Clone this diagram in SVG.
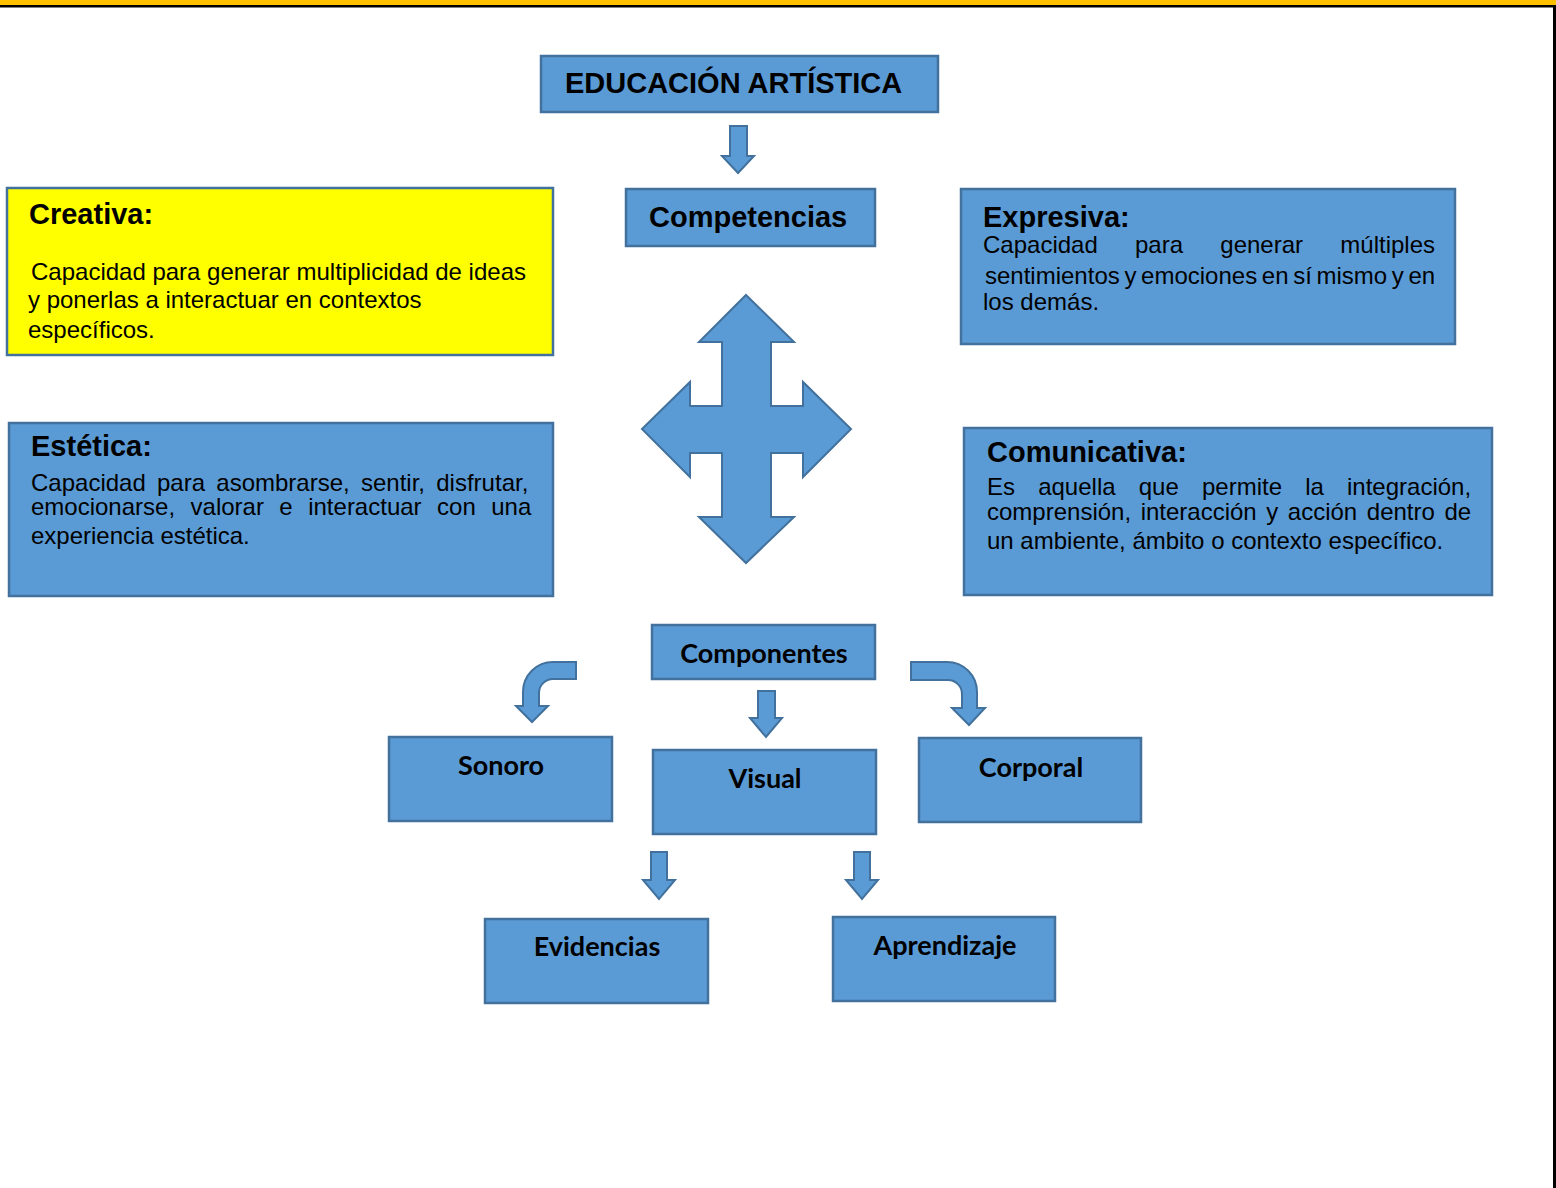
<svg xmlns="http://www.w3.org/2000/svg" width="1556" height="1188" viewBox="0 0 1556 1188">
<style>
.box{fill:#5b9bd5;stroke:#41719c;stroke-width:2.5}
.yel{fill:#ffff00;stroke:#41719c;stroke-width:2.5}
.arr{fill:#5b9bd5;stroke:#41719c;stroke-width:2;stroke-linejoin:miter}
.h{font-family:"Liberation Sans",Arial,sans-serif;font-weight:bold;font-size:29px;fill:#000}
.t{font-family:"Liberation Sans",Arial,sans-serif;font-size:24px;fill:#000}
.c{font-family:"Lato","Open Sans",sans-serif;font-weight:bold;font-size:27px;fill:#000;text-anchor:middle}
</style>
<rect x="0" y="0" width="1556" height="1188" fill="#fff"/>
<rect x="0" y="0" width="1556" height="5" fill="#ffc000"/>
<rect x="0" y="5" width="1556" height="2.5" fill="#000"/>
<rect x="1553" y="5" width="3" height="1183" fill="#000"/>

<g id="connectors">
<path class="arr" d="M730,126 L747,126 L747,156 L754,156 L738,173 L722,156 L730,156 Z"/>
<path class="arr" d="M746,295 L794,342 L771,342 L771,406 L803,406 L803,382 L851,429 L803,477 L803,453 L771,453 L771,517 L794,517 L746,563 L699,517 L722,517 L722,453 L690,453 L690,477 L642,429 L690,382 L690,406 L722,406 L722,342 L699,342 Z"/>
<path class="arr" d="M758,691 L775,691 L775,718 L782,718 L766,737 L750,718 L758,718 Z"/>
<path class="arr" d="M576,662 L553,662 A30,30 0 0 0 523,692 L523,706 L516,706 L532,722 L548,706 L539,706 L539,693 A14,14 0 0 1 553,679 L576,679 Z"/>
<path class="arr" d="M911,662 L947,662 A30,30 0 0 1 977,692 L977,708 L985,708 L969,725 L952,708 L962,708 L962,694 A14,14 0 0 0 948,680 L911,680 Z"/>
<path class="arr" d="M651,852 L667,852 L667,880 L675,880 L659,899 L643,880 L651,880 Z"/>
<path class="arr" d="M854,852 L870,852 L870,880 L878,880 L862,899 L846,880 L854,880 Z"/>
</g>

<g id="educacion">
<rect class="box" x="541" y="56" width="397" height="56"/>
<text class="h" x="565" y="93" font-size="29.3">EDUCACIÓN ARTÍSTICA</text>
</g>
<g id="competencias">
<rect class="box" x="626" y="189" width="249" height="57"/>
<text class="h" x="649" y="227">Competencias</text>
</g>
<g id="creativa">
<rect class="yel" x="7" y="188" width="546" height="167"/>
<text class="h" x="29" y="224">Creativa:</text>
<text class="t" x="31" y="280">Capacidad para generar multiplicidad de ideas</text>
<text class="t" x="28" y="308">y ponerlas a interactuar en contextos</text>
<text class="t" x="28" y="338">específicos.</text>
</g>
<g id="expresiva">
<rect class="box" x="961" y="189" width="494" height="155"/>
<text class="h" x="983" y="227">Expresiva:</text>
<text class="t" x="983" y="253" word-spacing="30.6">Capacidad para generar múltiples</text>
<text class="t" x="985" y="284" word-spacing="-2">sentimientos y emociones en sí mismo y en</text>
<text class="t" x="983" y="310">los demás.</text>
</g>
<g id="estetica">
<rect class="box" x="9" y="423" width="544" height="173"/>
<text class="h" x="31" y="456">Estética:</text>
<text class="t" x="31" y="491" word-spacing="4.6">Capacidad para asombrarse, sentir, disfrutar,</text>
<text class="t" x="31" y="515" word-spacing="8.8">emocionarse, valorar e interactuar con una</text>
<text class="t" x="31" y="544">experiencia estética.</text>
</g>
<g id="comunicativa">
<rect class="box" x="964" y="428" width="528" height="167"/>
<text class="h" x="987" y="462">Comunicativa:</text>
<text class="t" x="987" y="495" word-spacing="16.5">Es aquella que permite la integración,</text>
<text class="t" x="987" y="520" word-spacing="2.9">comprensión, interacción y acción dentro de</text>
<text class="t" x="987" y="549">un ambiente, ámbito o contexto específico.</text>
</g>
<g id="componentes">
<rect class="box" x="652" y="625" width="223" height="54"/>
<text class="c" x="764" y="663">Componentes</text>
</g>
<g id="sonoro">
<rect class="box" x="389" y="737" width="223" height="84"/>
<text class="c" x="501" y="775">Sonoro</text>
</g>
<g id="visual">
<rect class="box" x="653" y="750" width="223" height="84"/>
<text class="c" x="765" y="788">Visual</text>
</g>
<g id="corporal">
<rect class="box" x="919" y="738" width="222" height="84"/>
<text class="c" x="1031" y="777">Corporal</text>
</g>
<g id="evidencias">
<rect class="box" x="485" y="919" width="223" height="84"/>
<text class="c" x="597" y="956">Evidencias</text>
</g>
<g id="aprendizaje">
<rect class="box" x="833" y="917" width="222" height="84"/>
<text class="c" x="945" y="955">Aprendizaje</text>
</g>
</svg>
